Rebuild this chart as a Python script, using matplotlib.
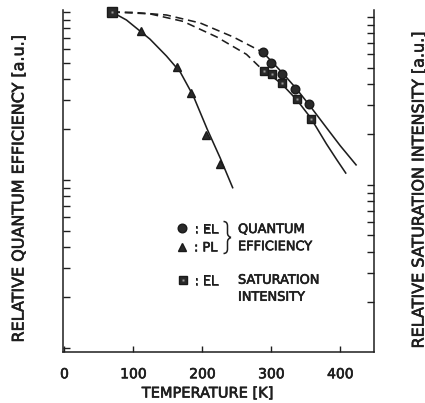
import matplotlib
matplotlib.use("Agg")
import matplotlib.pyplot as plt
import matplotlib.patheffects as pe
from matplotlib.lines import Line2D
from matplotlib.path import Path
from matplotlib.patches import PathPatch
from matplotlib.ticker import LogLocator, NullFormatter

# ---- data -------------------------------------------------------------
# common normalisation point (square marker at the top-left)
t_ref = [69]
v_ref = [100]

# photoluminescence quantum efficiency (triangles) and its curve
t_pl = [111, 163, 183, 205, 226]
qe_pl = [77, 47, 33, 18.5, 12.4]
t_pl_curve = [69, 90, 124, 148, 168, 187, 207, 226, 244]
qe_pl_curve = [100, 89.6, 69.0, 54.7, 43.9, 31.6, 20.1, 13.5, 9.0]

# electroluminescence quantum efficiency (circles)
t_el = [288, 300, 316, 335, 355]
qe_el = [57.5, 49.5, 43, 34.7, 28.3]
t_el_dash = [69, 100, 148, 197, 245, 288]
qe_el_dash = [100, 99.5, 96, 86, 71, 57.5]
t_el_curve = [288, 300, 316, 335, 355, 380, 400, 423]
qe_el_curve = [57.5, 51, 43.5, 35.5, 28, 20.5, 16, 12.3]

# electroluminescence saturation intensity (squares)
t_sat = [289, 301, 316, 337, 357]
i_sat = [44.6, 42.8, 37.7, 30.2, 23.0]
t_sat_dash = [69, 124, 172, 221, 264, 289]
i_sat_dash = [100, 97.5, 88, 71, 56, 44.6]
t_sat_curve = [289, 301, 316, 337, 357, 380, 395, 408]
i_sat_curve = [44.6, 41.5, 37, 30, 23.5, 16.4, 13.2, 11.0]

x_ticks = [0, 100, 200, 300, 400]
x_tick_labels = ["0", "100", "200", "300", "400"]

# ---- figure -----------------------------------------------------------
W, H = 425, 403
plt.rcParams["font.family"] = ["DejaVu Sans"]
ink = "#1e1e1e"
bold = [pe.withStroke(linewidth=0.45, foreground=ink)]
fig = plt.figure(figsize=(W / 100, H / 100), dpi=100)
fig.patch.set_facecolor("white")


def fx(x):
    return x / W


def fy(y):
    return 1 - y / H


ax_l, ax_r, ax_t, ax_b = 62.7, 374, 10, 352
ax = fig.add_axes([fx(ax_l), fy(ax_b), fx(ax_r) - fx(ax_l), fy(ax_t) - fy(ax_b)])
ax.set_yscale("log")
ax.set_xlim(-2.5, 449)
ax.set_ylim(0.946, 102.8)

lw = 1.15
ax.plot(t_pl_curve, qe_pl_curve, color=ink, lw=lw)
ax.plot(t_el_dash, qe_el_dash, color=ink, lw=lw, ls=(0, (5, 3)))
ax.plot(t_sat_dash, i_sat_dash, color=ink, lw=lw, ls=(0, (5, 3)))
ax.plot(t_el_curve, qe_el_curve, color=ink, lw=lw)
ax.plot(t_sat_curve, i_sat_curve, color=ink, lw=lw)

mk = dict(ls="none", color="#2a2a2a", mec="#1a1a1a", zorder=4, clip_on=False)
ax.plot(t_pl, qe_pl, marker="^", ms=6, **mk)
ax.plot(t_el, qe_el, marker="o", ms=6.2, **mk)
ax.plot(t_sat, i_sat, marker="s", ms=6.2, **mk)
ax.plot(t_ref, v_ref, marker="s", ms=6.5, **mk)
ax.plot(t_sat + t_ref, i_sat + v_ref, ls="none", marker="s", ms=1.6,
        color="#9a9a9a", mec="none", zorder=5, clip_on=False)

# axes styling
ax.spines["top"].set_visible(False)
ax.spines["right"].set_visible(False)
for side in ("left", "bottom"):
    ax.spines[side].set_linewidth(1.1)
    ax.spines[side].set_color(ink)

ax.set_xticks(x_ticks)
ax.set_xticklabels(x_tick_labels, fontsize=10, color=ink)
for lab in ax.get_xticklabels():
    lab.set_path_effects(bold)
ax.tick_params(axis="x", direction="in", length=4, width=1, pad=11, colors=ink)
ax.yaxis.set_major_locator(LogLocator(base=10, numticks=10))
ax.yaxis.set_minor_locator(LogLocator(base=10, subs=range(2, 10), numticks=20))
ax.yaxis.set_major_formatter(NullFormatter())
ax.yaxis.set_minor_formatter(NullFormatter())
ax.tick_params(axis="y", which="both", direction="in", length=5, width=1, colors=ink)

# right-hand axis (saturation intensity)
ax2 = ax.twinx()
ax2.set_yscale("log")
ax2.set_ylim(0.946 * 1.07, 102.8 * 1.07)
for side in ("top", "left", "bottom"):
    ax2.spines[side].set_visible(False)
ax2.spines["right"].set_linewidth(1.1)
ax2.spines["right"].set_color(ink)
ax2.yaxis.set_major_locator(LogLocator(base=10, numticks=10))
ax2.yaxis.set_minor_locator(LogLocator(base=10, subs=range(2, 10), numticks=20))
ax2.yaxis.set_major_formatter(NullFormatter())
ax2.yaxis.set_minor_formatter(NullFormatter())
ax2.tick_params(axis="y", which="both", direction="in", length=5, width=1, colors=ink)

# axis titles
fig.text(fx(207.5), fy(393), "TEMPERATURE [K]", fontsize=10.5, color=ink,
         ha="center", va="center", path_effects=bold)
fig.text(fx(19), fy(188), "RELATIVE QUANTUM EFFICIENCY [a.u.]", fontsize=11.5,
         color=ink, ha="center", va="center", rotation=90, path_effects=bold)
fig.text(fx(419), fy(189), "RELATIVE SATURATION INTENSITY [a.u.]", fontsize=11.5,
         color=ink, ha="center", va="center", rotation=90, path_effects=bold)

# key
fs = 9.3
cap = 0.729 * fs * 100 / 72 / 2


def key_text(x, y, s):
    fig.text(fx(x), fy(y + cap), s, fontsize=fs, color=ink, ha="left",
             va="baseline", path_effects=bold)


def key_marker(x, y, marker, ms):
    fig.add_artist(Line2D([fx(x)], [fy(y)], transform=fig.transFigure, ls="none",
                          marker=marker, ms=ms, color="#2a2a2a", mec="#1a1a1a"))


key_marker(181.7, 228.3, "o", 6.2)
key_marker(181.7, 246.7, "^", 6)
key_marker(183.3, 280, "s", 6.2)
fig.add_artist(Line2D([fx(183.3)], [fy(280)], transform=fig.transFigure, ls="none",
                      marker="s", ms=1.6, color="#9a9a9a", mec="none"))
key_text(194, 228.3, ": EL")
key_text(194, 246.7, ": PL")
key_text(194, 280, ": EL")
key_text(238, 228.3, "QUANTUM")
key_text(238, 245.5, "EFFICIENCY")
key_text(238, 279, "SATURATION")
key_text(238, 296, "INTENSITY")

# brace joining the two quantum-efficiency entries
pts = [(223.5, 221.5), (227.5, 221.5), (227.5, 226), (227.5, 233),
       (227.5, 236.5), (231, 237.5), (231, 237.5),
       (227.5, 238.5), (227.5, 242), (227.5, 249),
       (227.5, 253.5), (223.5, 253.5), (223.5, 253.5)]
codes = [Path.MOVETO, Path.CURVE3, Path.CURVE3, Path.LINETO,
         Path.CURVE3, Path.CURVE3, Path.MOVETO,
         Path.CURVE3, Path.CURVE3, Path.LINETO,
         Path.CURVE3, Path.CURVE3, Path.LINETO]
brace = Path([(fx(x), fy(y)) for x, y in pts], codes)
fig.add_artist(PathPatch(brace, transform=fig.transFigure, fill=False,
                         edgecolor=ink, lw=1.1))

fig.savefig("out.png", dpi=100, facecolor="white")
